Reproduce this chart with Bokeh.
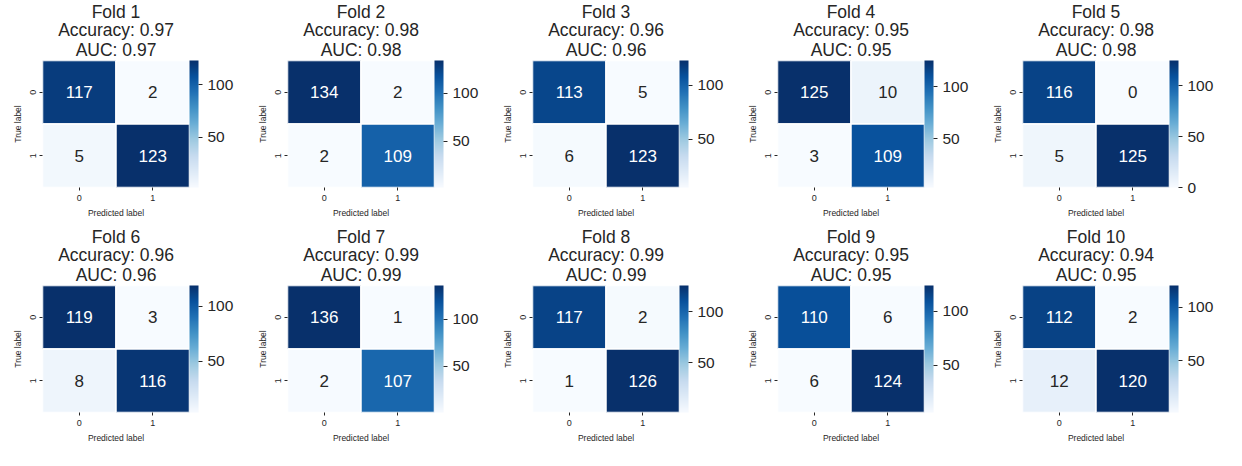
import numpy as np
from bokeh.plotting import figure
from bokeh.models import (ColumnDataSource, LinearColorMapper, ColorBar,
                          FixedTicker, Title, Range1d, LinearAxis)
from bokeh.layouts import row, column
from bokeh.transform import transform
from bokeh.core.properties import value
from bokeh.embed import file_html
from bokeh.resources import INLINE

# ---------------- data ----------------
folds = ["Fold 1", "Fold 2", "Fold 3", "Fold 4", "Fold 5",
         "Fold 6", "Fold 7", "Fold 8", "Fold 9", "Fold 10"]
accuracy = [0.97, 0.98, 0.96, 0.95, 0.98, 0.96, 0.99, 0.99, 0.95, 0.94]
auc = [0.97, 0.98, 0.96, 0.95, 0.98, 0.96, 0.99, 0.99, 0.95, 0.95]
tn = [117, 134, 113, 125, 116, 119, 136, 117, 110, 112]
fp = [2, 2, 5, 10, 0, 3, 1, 2, 6, 2]
fn = [5, 2, 6, 3, 5, 8, 2, 1, 6, 12]
tp = [123, 109, 123, 109, 125, 116, 107, 126, 124, 120]
class_labels = [0, 1]
cbar_ticks = [0, 50, 100]

FONT = "Liberation Sans"
TXT = "#262626"

# matplotlib "Blues" colormap anchors
blues_anchor = ["#f7fbff", "#deebf7", "#c6dbef", "#9ecae1", "#6baed6",
                "#4292c6", "#2171b5", "#08519c", "#08306b"]


def hex2rgb(h):
    return [int(h[i:i + 2], 16) / 255.0 for i in (1, 3, 5)]


anch = np.array([hex2rgb(h) for h in blues_anchor])
tt = np.linspace(0, 1, 256)
pos = np.linspace(0, 1, len(blues_anchor))
pal_rgb = np.stack([np.interp(tt, pos, anch[:, k]) for k in range(3)], axis=1)
palette = ["#%02x%02x%02x" % tuple(int(round(c * 255)) for c in rgb) for rgb in pal_rgb]


def rel_lum(rgb):
    rgb = np.asarray(rgb)
    lin = np.where(rgb <= 0.03928, rgb / 12.92, ((rgb + 0.055) / 1.055) ** 2.4)
    return 0.2126 * lin[0] + 0.7152 * lin[1] + 0.0722 * lin[2]


W, H = 245, 225


def make_panel(i):
    vals = [tn[i], fp[i], fn[i], tp[i]]
    xs = [class_labels[0], class_labels[1], class_labels[0], class_labels[1]]
    ys = [class_labels[0], class_labels[0], class_labels[1], class_labels[1]]
    vmin, vmax = min(vals), max(vals)
    mapper = LinearColorMapper(palette=palette, low=vmin, high=vmax)
    tcols = []
    for v in vals:
        n = (v - vmin) / (vmax - vmin)
        idx = min(int(n * 256), 255)
        tcols.append(TXT if rel_lum(pal_rgb[idx]) > 0.408 else "white")
    src = ColumnDataSource(dict(x=xs, y=ys, v=vals,
                                lab=[str(v) for v in vals], tc=tcols))

    p = figure(width=W, height=H, output_backend="svg", toolbar_location=None,
               x_range=Range1d(-0.5, 1.5), y_range=Range1d(1.5, -0.5),
               title=None, min_border_left=42, min_border_right=56,
               min_border_top=60, min_border_bottom=38)
    p.outline_line_color = None
    p.background_fill_color = "white"
    p.border_fill_color = "white"
    p.grid.visible = False

    p.rect(x="x", y="y", width=1, height=1, source=src,
           fill_color=transform("v", mapper), line_color="white", line_width=1.5)
    p.text(x="x", y="y", text="lab", source=src, text_color="tc",
           text_align="center", text_baseline="middle",
           text_font=value(FONT), text_font_size="17px")

    for ax in (p.xaxis[0], p.yaxis[0]):
        ax.ticker = FixedTicker(ticks=class_labels)
        ax.axis_line_color = None
        ax.major_tick_in = 0
        ax.major_tick_out = 3
        ax.major_tick_line_color = TXT
        ax.minor_tick_line_color = None
        ax.major_label_text_font = FONT
        ax.major_label_text_font_size = "9px"
        ax.major_label_text_color = TXT
        ax.axis_label_text_font = FONT
        ax.axis_label_text_font_size = "8.5px"
        ax.axis_label_text_font_style = "normal"
        ax.axis_label_text_color = TXT
        ax.axis_label_standoff = 4
        ax.major_label_standoff = 4
    p.xaxis.axis_label = "Predicted label"
    p.yaxis.axis_label = "True label"
    p.yaxis.major_label_orientation = "vertical"

    # blank spacer between heatmap and colour bar
    spacer = LinearAxis(ticker=FixedTicker(ticks=[]), axis_line_color=None,
                        major_tick_out=4, major_tick_in=0,
                        major_tick_line_color=None, minor_tick_line_color=None,
                        major_label_text_font_size="0px")
    p.add_layout(spacer, "right")

    cb = ColorBar(color_mapper=mapper, ticker=FixedTicker(ticks=cbar_ticks),
                  width=9, padding=0, margin=7, bar_line_color=None,
                  border_line_color=None, background_fill_color=None,
                  major_tick_in=0, major_tick_out=4,
                  major_tick_line_color=TXT, minor_tick_line_color=None,
                  major_label_text_font=FONT, major_label_text_font_size="15.5px",
                  major_label_text_color=TXT, label_standoff=5)
    p.add_layout(cb, "right")

    for txt, so in ((f"AUC: {auc[i]:.2f}", 1),
                    (f"Accuracy: {accuracy[i]:.2f}", -4),
                    (folds[i], -4)):
        p.add_layout(Title(text=txt, align="center", text_font=FONT,
                           text_font_size="17.5px", text_font_style="normal",
                           text_color=TXT, standoff=so), "above")
    return p


panels = [make_panel(i) for i in range(10)]
layout = column(row(*panels[:5]), row(*panels[5:]))

open("out.html", "w").write(file_html(layout, INLINE))
